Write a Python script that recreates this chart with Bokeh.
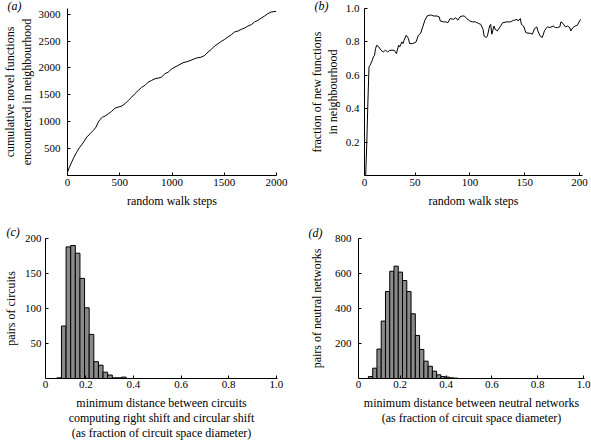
from bokeh.plotting import figure
from bokeh.layouts import column, row
from bokeh.models import FixedTicker, Range1d, Title, PrintfTickFormatter
from bokeh.embed import file_html
from bokeh.resources import INLINE
import numpy as np

FONT = "Liberation Serif"

# ---------------- data ----------------
# (a) cumulative novel functions vs random walk steps
a_steps = [0, 18, 40, 62, 88, 113, 136, 158, 184, 215, 247, 273, 295, 311, 336, 359, 390, 422, 454, 486,
           518, 550, 582, 614, 645, 677, 709, 741, 773, 805, 837, 868, 900, 932, 964, 990, 1011, 1058, 1106, 1154,
           1201, 1233, 1281, 1313, 1345, 1376, 1408, 1440, 1472, 1504, 1535, 1567, 1599, 1631, 1663, 1695, 1726, 1758, 1790, 1822,
           1854, 1886, 1917, 1949, 1997]
a_vals = [60, 155, 248, 341, 434, 515, 571, 633, 713, 775, 837, 900, 993, 1042, 1086, 1104, 1148, 1191, 1253, 1272,
          1290, 1334, 1396, 1458, 1520, 1582, 1638, 1675, 1737, 1768, 1799, 1811, 1830, 1892, 1923, 1970, 1998, 2047, 2097, 2122,
          2159, 2184, 2202, 2233, 2295, 2345, 2407, 2450, 2494, 2531, 2574, 2618, 2668, 2686, 2717, 2742, 2779, 2804, 2854, 2885,
          2928, 2965, 3009, 3040, 3052]

# (b) fraction of new functions in neighbourhood
b_steps = [5, 6, 7, 8, 9, 11, 12, 13, 14, 15, 17, 19, 21, 23, 25, 27, 29, 31, 32, 33,
           35, 36, 38, 39, 40, 42, 44, 45, 48, 51, 53, 55, 57, 59, 61, 63, 65, 67, 70, 72,
           73, 76, 78, 80, 82, 85, 87, 89, 91, 93, 95, 97, 99, 100, 102, 105, 108, 110, 112, 113,
           115, 116, 118, 119, 120, 122, 123, 125, 128, 130, 134, 137, 140, 141, 143, 144, 146, 147, 149, 151,
           153, 155, 157, 159, 161, 162, 164, 166, 168, 170, 171, 173, 176, 178, 180, 182, 183, 185, 187, 189,
           191, 192, 194, 196, 198, 200, 201]
b_vals = [0.0, 0.2, 0.44, 0.65, 0.66, 0.69, 0.71, 0.72, 0.76, 0.78, 0.77, 0.75, 0.74, 0.75, 0.74, 0.75, 0.75, 0.75, 0.74, 0.73,
          0.78, 0.77, 0.80, 0.79, 0.81, 0.84, 0.82, 0.79, 0.79, 0.80, 0.84, 0.85, 0.89, 0.93, 0.955, 0.96, 0.96, 0.955, 0.955, 0.95,
          0.925, 0.92, 0.92, 0.915, 0.94, 0.935, 0.945, 0.93, 0.95, 0.955, 0.955, 0.94, 0.93, 0.925, 0.92, 0.92, 0.91, 0.905, 0.875, 0.835,
          0.826, 0.836, 0.895, 0.905, 0.846, 0.895, 0.876, 0.866, 0.895, 0.915, 0.92, 0.92, 0.93, 0.93, 0.935, 0.925, 0.94, 0.905, 0.895, 0.856,
          0.852, 0.852, 0.846, 0.88, 0.89, 0.866, 0.836, 0.826, 0.866, 0.886, 0.89, 0.886, 0.895, 0.886, 0.886, 0.89, 0.92, 0.91, 0.89, 0.895,
          0.886, 0.866, 0.886, 0.895, 0.9, 0.925, 0.935]

# (c) histogram: pairs of circuits
c_first_edge = 0.0786
c_bin_width = 0.0194
c_counts = [1, 75, 188, 190, 179, 143, 101, 63, 24, 19, 9, 5, 1, 1, 2]

# (d) histogram: pairs of neutral networks
d_first_edge = 0.0613
d_bin_width = 0.0186
d_counts = [11, 59, 168, 328, 497, 613, 642, 608, 560, 497, 370, 246, 166, 99, 70, 42, 21, 11, 8, 4, 2]

a_xticks = [500, 1000, 1500, 2000]
a_yticks = [500, 1000, 1500, 2000, 2500, 3000]
b_xticks = [50, 100, 150, 200]
b_yticks = [0.2, 0.4, 0.6, 0.8, 1.0]
c_xticks = [0.2, 0.4, 0.6, 0.8, 1.0]
c_yticks = [50, 100, 150, 200]
d_xticks = [0.2, 0.4, 0.6, 0.8, 1.0]
d_yticks = [200, 400, 600, 800]


def mk(fw, fh, bl, br, bt, bb, xr, yr):
    p = figure(frame_width=fw, frame_height=fh, min_border_left=bl, min_border_right=br,
               min_border_top=bt, min_border_bottom=bb, x_range=Range1d(*xr), y_range=Range1d(*yr),
               output_backend="svg", toolbar_location=None)
    p.outline_line_color = None
    p.grid.visible = False
    p.background_fill_color = "white"
    p.border_fill_color = "white"
    for ax in (p.xaxis[0], p.yaxis[0]):
        ax.axis_line_color = "black"
        ax.axis_line_width = 1
        ax.major_tick_in = 3
        ax.major_tick_out = 0
        ax.major_tick_line_color = "black"
        ax.minor_tick_line_color = None
        ax.major_label_text_font = FONT
        ax.major_label_text_font_size = "11px"
        ax.major_label_text_color = "black"
        ax.axis_label_text_font = FONT
        ax.axis_label_text_font_size = "12px"
        ax.axis_label_text_font_style = "normal"
        ax.axis_label_text_color = "black"
    return p


def finish(p, xticks, yticks, xlabel, ylabel, x_lab_h, y_lab_h, xs_std, ys_std, xl_std, yl_std,
           tag, tag_offset, tag_standoff, xfmt=None, yfmt=None):
    x0 = p.x_range.start
    p.xaxis[0].ticker = FixedTicker(ticks=[x0] + xticks)
    p.xaxis[0].major_label_overrides = {x0: "0"}
    p.yaxis[0].ticker = FixedTicker(ticks=yticks)
    if xfmt:
        p.xaxis[0].formatter = PrintfTickFormatter(format=xfmt)
    if yfmt:
        p.yaxis[0].formatter = PrintfTickFormatter(format=yfmt)
    p.xaxis[0].axis_label = xlabel
    p.yaxis[0].axis_label = ylabel
    p.xaxis[0].axis_label_text_line_height = x_lab_h
    p.yaxis[0].axis_label_text_line_height = y_lab_h
    p.xaxis[0].major_label_standoff = xs_std
    p.yaxis[0].major_label_standoff = ys_std
    p.xaxis[0].axis_label_standoff = xl_std
    p.yaxis[0].axis_label_standoff = yl_std
    p.add_layout(Title(text=tag, align="left", offset=tag_offset, standoff=tag_standoff,
                       text_font=FONT, text_font_style="italic", text_font_size="12px",
                       text_color="black"), "above")


# (a)
pa = mk(209, 167, 60, 30, 8, 43, (0, 2000), (0, 3105))
pa.line(a_steps, a_vals, line_color="black", line_width=1)
finish(pa, a_xticks, a_yticks, "random walk steps",
       "cumulative novel functions\nencountered in neighbourhood", 1.1, 1.15, 3, 7, 5, 2,
       "(a)", -60, -8)

# (b)
pb = mk(218, 167, 56, 9, 8, 50, (3.9, 202.7), (0, 1.0))
pb.line(b_steps, b_vals, line_color="black", line_width=1)
finish(pb, b_xticks, b_yticks, "random walk steps",
       "fraction of new functions\nin neighbourhood", 1.1, 1.15, 3, 5, 5, 3,
       "(b)", -50, -8, yfmt="%.1f")

# (c)
c_left = c_first_edge + c_bin_width * np.arange(len(c_counts))
pc = mk(232, 140, 39, 28, 20, 58, (0.031, 1.005), (0, 200))
pc.quad(left=c_left, right=c_left + c_bin_width, bottom=0, top=c_counts,
        fill_color="#8a8a8a", line_color="black", line_width=1)
finish(pc, c_xticks, c_yticks,
       "minimum distance between circuits\ncomputing right shift and circular shift\n(as fraction of circuit space diameter)",
       "pairs of circuits", 1.1, 1.1, 2, 4, 5, 4,
       "(c)", -39, 0, xfmt="%.1f")

# (d)
d_left = d_first_edge + d_bin_width * np.arange(len(d_counts))
pd_ = mk(226, 140, 48, 9, 13, 58, (0.018, 1.004), (0, 800))
pd_.quad(left=d_left, right=d_left + d_bin_width, bottom=0, top=d_counts,
         fill_color="#8a8a8a", line_color="black", line_width=1)
finish(pd_, d_xticks, d_yticks,
       "minimum distance between neutral networks\n(as fraction of circuit space diameter)",
       "pairs of neutral networks", 1.1, 1.1, 2, 7, 5, 8,
       "(d)", -50, -3, xfmt="%.1f")

layout = row(column(row(pa), row(pc)), column(row(pb), row(pd_)))
open("out.html", "w").write(file_html(layout, INLINE))
